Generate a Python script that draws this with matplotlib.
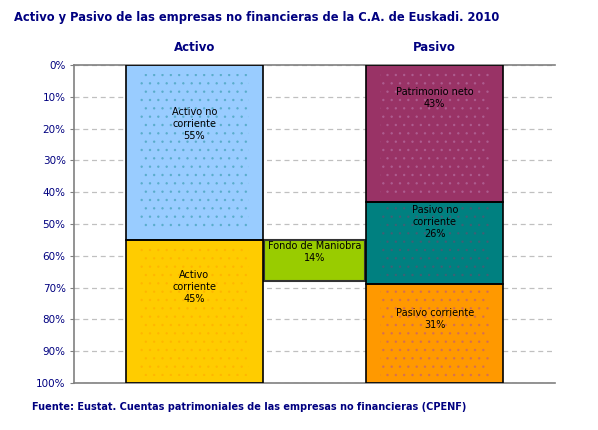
import numpy as np
import matplotlib
matplotlib.use("Agg")
import matplotlib.pyplot as plt

# data (percent of total)
activo_labels = ["Activo no\ncorriente\n55%", "Activo\ncorriente\n45%"]
activo_vals = [55, 45]
pasivo_labels = ["Patrimonio neto\n43%", "Pasivo no\ncorriente\n26%", "Pasivo corriente\n31%"]
pasivo_vals = [43, 26, 31]
fondo_label = "Fondo de Maniobra\n14%"
fondo_bottom = 55
fondo_height = 13
top_labels = ["Activo", "Pasivo"]
yticks = list(range(0, 101, 10))

# where Excel placed the data labels (fraction inside each segment)
activo_lab_pos = [0.34, 0.33]
pasivo_lab_pos = [0.24, 0.25, 0.35]

NAVY = "#000080"
activo_colors = ["#99CCFF", "#FFCC00"]
activo_hatch = ["#008080", "#FF9900"]
pasivo_colors = ["#993366", "#008080", "#FF9900"]
pasivo_hatch = ["#CC99CC", "#993366", "#9933CC"]

plt.rcParams["hatch.linewidth"] = 0.6

fig = plt.figure(figsize=(5.98, 4.30), dpi=100)
ax = fig.add_axes([74 / 598, 1 - 383 / 430, (555 - 74) / 598, (383 - 65) / 430])

W = 137 / 120


def stack(x, vals, colors, hcolors, labels, lpos, width):
    bottom = 0
    for v, c, hc, lab, lp in zip(vals, colors, hcolors, labels, lpos):
        ax.bar(x, v, bottom=bottom, width=width, color=c, edgecolor="none", zorder=2)
        ax.bar(x, v * 0.9, bottom=bottom + v * 0.05, width=width * 0.8, color="none",
               edgecolor=hc, hatch="..", linewidth=0, alpha=0.3, zorder=2)
        ax.bar(x, v, bottom=bottom, width=width, color="none", edgecolor="black",
               linewidth=1.2, zorder=3)
        ax.text(x, bottom + v * lp, lab, ha="center", va="center", fontsize=7,
                color="black", zorder=4, linespacing=1.25)
        bottom += v


stack(0, activo_vals, activo_colors, activo_hatch, activo_labels, activo_lab_pos, W)
stack(2, pasivo_vals, pasivo_colors, pasivo_hatch, pasivo_labels, pasivo_lab_pos, W)

fw = 101 / 120
ax.bar(1, fondo_height, bottom=fondo_bottom, width=fw, color="#99CC00",
       edgecolor="#333333", linewidth=1.5, zorder=2)
ax.text(1, fondo_bottom + fondo_height * 0.3, fondo_label, ha="center", va="center",
        fontsize=7, color="black", zorder=4, linespacing=1.25)

ax.set_xlim(-1, 3)
ax.set_ylim(100, 0)
ax.set_yticks(yticks)
ax.set_yticklabels([f"{t}%" for t in yticks], color=NAVY, fontsize=7.5)
ax.tick_params(axis="y", length=3, color="#808080", pad=3)
ax.set_xticks([])
ax.yaxis.grid(True, linestyle=(0, (4, 3)), color="#C0C0C0", linewidth=0.9, zorder=0)
ax.set_axisbelow(True)
ax.spines["right"].set_visible(False)
for s in ["left", "top", "bottom"]:
    ax.spines[s].set_color("#808080")
    ax.spines[s].set_linewidth(1.2)

for x, lab in zip([0, 2], top_labels):
    ax.text(x, -3.5, lab, ha="center", va="bottom", fontsize=8.5, fontweight="bold",
            color=NAVY)

fig.text(14 / 598, 1 - 18 / 430,
         "Activo y Pasivo de las empresas no financieras de la C.A. de Euskadi. 2010",
         ha="left", va="center", fontsize=8.3, fontweight="bold", color=NAVY)
fig.text(32 / 598, 1 - 407 / 430,
         "Fuente: Eustat. Cuentas patrimoniales de las empresas no financieras (CPENF)",
         ha="left", va="center", fontsize=7, fontweight="bold", color=NAVY)

fig.savefig("out.png", dpi=100)
